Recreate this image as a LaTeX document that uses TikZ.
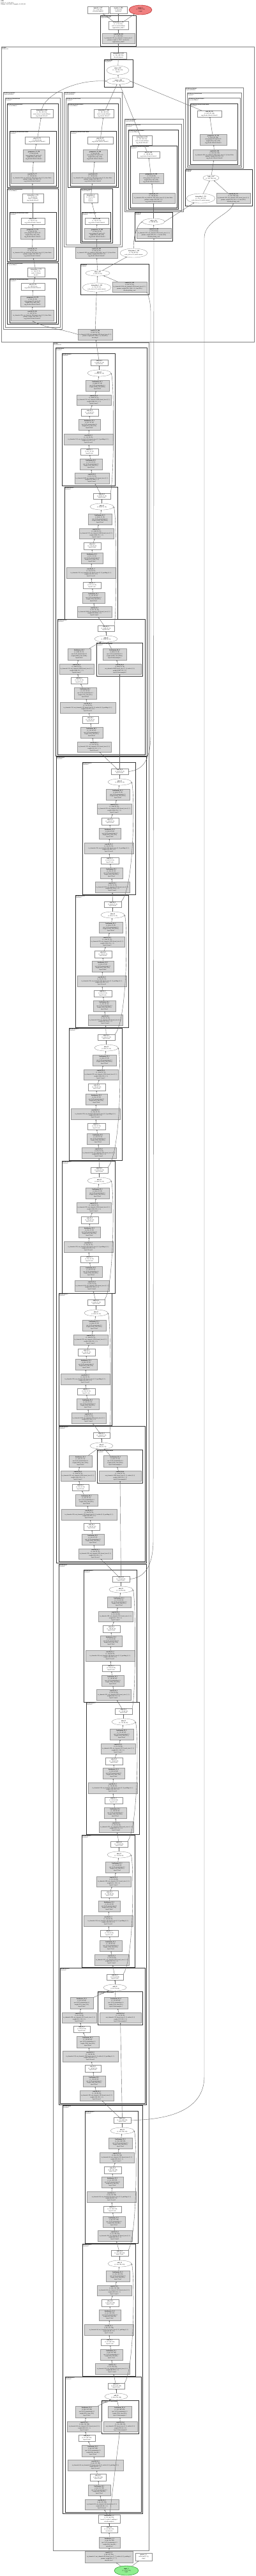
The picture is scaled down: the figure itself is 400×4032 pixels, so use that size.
\documentclass[tikz,border=0pt]{standalone}
\usepackage{fontspec}
\setmainfont{Liberation Serif}
\usetikzlibrary{shapes.geometric,arrows.meta}
\definecolor{lcoral}{HTML}{F08080}
\definecolor{lgreen}{HTML}{90EE90}
\newcommand\defL[5]{\expandafter\def\csname sh#1\endcsname{#2}\expandafter\def\csname ms#1\endcsname{#3}\expandafter\def\csname oc#1\endcsname{#4}\expandafter\def\csname mc#1\endcsname{#5}}
\defL{1}{(1, 256, 128, 128)}{(1, 64, 128, 128)}{256}{64}
\defL{2}{(1, 512, 64, 64)}{(1, 128, 64, 64)}{512}{128}
\defL{3}{(1, 1024, 32, 32)}{(1, 256, 32, 32)}{1024}{256}
\defL{4}{(1, 2048, 16, 16)}{(1, 512, 16, 16)}{2048}{512}
\tikzset{
 base/.style={inner sep=0pt, outer sep=0pt, align=center, font=\fontsize{2.2}{2.9}\selectfont},
 wn/.style={base, rectangle, draw=black!45, line width=0.35pt, fill=white},
 gn/.style={base, rectangle, draw=black!40, line width=0.35pt, fill=black!17},
 en/.style={base, ellipse, draw=black!45, line width=0.35pt, fill=white},
 rn/.style={base, ellipse, draw=red!65!black, line width=0.35pt, fill=lcoral},
 grn/.style={base, ellipse, draw=green!45!black, line width=0.35pt, fill=lgreen},
 e/.style={draw=black!60, line width=0.4pt, -{Stealth[length=2pt,width=1.6pt]}},
 cb/.style={draw=black!80, line width=0.65pt},
 cg/.style={draw=black!50, line width=0.85pt},
 cl/.style={anchor=north west, inner sep=0.4pt, align=left, font=\fontsize{1.9}{2.3}\selectfont},
}
\newcommand\nd[7]{\node[#2,minimum width={((#5)-(#3))*1pt},minimum height={((#6)-(#4))*1pt}] (#1) at ({((#3)+(#5))/2},{((#4)+(#6))/2}) {#7};}
\newcommand\clu[7]{\draw[#2] ({#3},{#4}) rectangle ({#5},{#6}); \node[cl] (#1) at ({(#3)+0.8},{(#4)+0.6}) {#7};}
% normal bottleneck block: prefix, bx, by, layer, idx, input
\newcommand\nb[6]{%
\clu{#1L}{cb}{#2}{#3}{#2+83}{#3+207}{\textbf{encoder.layer#4.#5}\\Bottleneck}
\nd{#1r1}{wn}{#2+45}{#3+10}{#2+72}{#3+19}{\textbf{relu\_#4#5\_3}\\\csname sh#4\endcsname\\layer#4.#5.relu}
\nd{#1ad}{en}{#2+40}{#3+26}{#2+77}{#3+36}{\textbf{add\_#4#5}\\\csname sh#4\endcsname}
\nd{#1b1}{gn}{#2+37}{#3+42}{#2+74}{#3+59}{\textbf{batchnorm\_#4#5\_3}\\\csname sh#4\endcsname\\eps=1e-05, momentum=0.1\\weight (\csname oc#4\endcsname,), bias (\csname oc#4\endcsname,)\\layer#4.#5.bn3}
\nd{#1c1}{gn}{#2+23}{#3+65}{#2+77}{#3+81}{\textbf{conv2d\_#4#5\_3}\\\csname sh#4\endcsname\\in\_channels=\csname mc#4\endcsname, out\_channels=\csname oc#4\endcsname, kernel\_size=(1, 1)\\weight (\csname oc#4\endcsname, \csname mc#4\endcsname, 1, 1)\\layer#4.#5.conv3}
\nd{#1r2}{wn}{#2+30}{#3+87}{#2+57}{#3+98}{\textbf{relu\_#4#5\_2}\\\csname ms#4\endcsname\\layer#4.#5.relu}
\nd{#1b2}{gn}{#2+26}{#3+103}{#2+60}{#3+120}{\textbf{batchnorm\_#4#5\_2}\\\csname ms#4\endcsname\\eps=1e-05, momentum=0.1\\weight (\csname mc#4\endcsname,), bias (\csname mc#4\endcsname,)\\layer#4.#5.bn2}
\nd{#1c2}{gn}{#2+3}{#3+126}{#2+80}{#3+143}{\textbf{conv2d\_#4#5\_2}\\\csname ms#4\endcsname\\in\_channels=\csname mc#4\endcsname, out\_channels=\csname mc#4\endcsname, kernel\_size=(3, 3), padding=(1, 1)\\weight (\csname mc#4\endcsname, \csname mc#4\endcsname, 3, 3)\\layer#4.#5.conv2}
\nd{#1r3}{wn}{#2+29}{#3+149}{#2+57}{#3+159}{\textbf{relu\_#4#5\_1}\\\csname ms#4\endcsname\\layer#4.#5.relu}
\nd{#1b3}{gn}{#2+28}{#3+165}{#2+63}{#3+182}{\textbf{batchnorm\_#4#5\_1}\\\csname ms#4\endcsname\\eps=1e-05, momentum=0.1\\weight (\csname mc#4\endcsname,), bias (\csname mc#4\endcsname,)\\layer#4.#5.bn1}
\nd{#1c3}{gn}{#2+20}{#3+187}{#2+74}{#3+204}{\textbf{conv2d\_#4#5\_1}\\\csname ms#4\endcsname\\in\_channels=\csname oc#4\endcsname, out\_channels=\csname mc#4\endcsname, kernel\_size=(1, 1)\\weight (\csname mc#4\endcsname, \csname oc#4\endcsname, 1, 1)\\layer#4.#5.conv1}
\draw[e] (#1c3)--(#1b3); \draw[e] (#1b3)--(#1r3); \draw[e] (#1r3)--(#1c2); \draw[e] (#1c2)--(#1b2);
\draw[e] (#1b2)--(#1r2); \draw[e] (#1r2)--(#1c1); \draw[e] (#1c1)--(#1b1); \draw[e] (#1b1)--(#1ad); \draw[e] (#1ad)--(#1r1);
\draw[e] (#6)--(#1c3);
\draw[e] (#6.north east) .. controls ({#2+82},{#3+195}) and ({#2+82},{#3+45}) .. (#1ad.east);
}
% downsample block: prefix, bx, by, layer, w, relu offset, ds offset, input
\newcommand\db[8]{%
\clu{#1L}{cb}{#2}{#3}{#2+#5}{#3+212}{\textbf{encoder.layer#4.0}\\Bottleneck}
\nd{#1r1}{wn}{#2+#6}{#3+10}{#2+#6+26}{#3+19}{\textbf{relu\_#40\_3}\\\csname sh#4\endcsname\\layer#4.0.relu}
\nd{#1ad}{en}{#2+#6-5}{#3+26}{#2+#6+31}{#3+36}{\textbf{add\_#40}\\\csname sh#4\endcsname}
\clu{#1D}{cb}{#2+#7}{#3+37}{#2+#5-4}{#3+89}{\textbf{encoder.layer#4.0.downsample}\\Sequential}
\nd{#1db}{gn}{#2+#7+10}{#3+46}{#2+#7+47}{#3+64}{\textbf{batchnorm\_#40\_d}\\\csname sh#4\endcsname\\eps=1e-05, momentum=0.1\\weight (\csname oc#4\endcsname,), bias (\csname oc#4\endcsname,)\\layer#4.0.downsample.1}
\nd{#1dc}{gn}{#2+#7+3}{#3+70}{#2+#5-6}{#3+86}{\textbf{conv2d\_#40\_d}\\\csname sh#4\endcsname\\out\_channels=\csname oc#4\endcsname, kernel\_size=(1, 1), stride=(2, 2)\\weight (\csname oc#4\endcsname, \csname mc#4\endcsname, 1, 1)\\layer#4.0.downsample.0}
\nd{#1b1}{gn}{#2+16}{#3+46}{#2+52}{#3+64}{\textbf{batchnorm\_#40\_3}\\\csname sh#4\endcsname\\eps=1e-05, momentum=0.1\\weight (\csname oc#4\endcsname,), bias (\csname oc#4\endcsname,)\\layer#4.0.bn3}
\nd{#1c1}{gn}{#2+3}{#3+70}{#2+57}{#3+86}{\textbf{conv2d\_#40\_3}\\\csname sh#4\endcsname\\in\_channels=\csname mc#4\endcsname, out\_channels=\csname oc#4\endcsname, kernel\_size=(1, 1)\\weight (\csname oc#4\endcsname, \csname mc#4\endcsname, 1, 1)\\layer#4.0.conv3}
\nd{#1r2}{wn}{#2+21}{#3+91}{#2+47}{#3+101}{\textbf{relu\_#40\_2}\\\csname ms#4\endcsname\\layer#4.0.relu}
\nd{#1b2}{gn}{#2+26}{#3+107}{#2+61}{#3+125}{\textbf{batchnorm\_#40\_2}\\\csname ms#4\endcsname\\eps=1e-05, momentum=0.1\\weight (\csname mc#4\endcsname,), bias (\csname mc#4\endcsname,)\\layer#4.0.bn2}
\nd{#1c2}{gn}{#2+4}{#3+130}{#2+91}{#3+147}{\textbf{conv2d\_#40\_2}\\\csname ms#4\endcsname\\in\_channels=\csname mc#4\endcsname, out\_channels=\csname mc#4\endcsname, kernel\_size=(3, 3), stride=(2, 2), padding=(1, 1)\\weight (\csname mc#4\endcsname, \csname mc#4\endcsname, 3, 3)\\layer#4.0.conv2}
\nd{#1r3}{wn}{#2+39}{#3+152}{#2+64}{#3+163}{\textbf{relu\_#40\_1}\\\csname ms#4\endcsname\\layer#4.0.relu}
\nd{#1b3}{gn}{#2+36}{#3+169}{#2+71}{#3+186}{\textbf{batchnorm\_#40\_1}\\\csname ms#4\endcsname\\eps=1e-05, momentum=0.1\\weight (\csname mc#4\endcsname,), bias (\csname mc#4\endcsname,)\\layer#4.0.bn1}
\nd{#1c3}{gn}{#2+31}{#3+192}{#2+84}{#3+208}{\textbf{conv2d\_#40\_1}\\\csname ms#4\endcsname\\in\_channels=\csname mc#4\endcsname, out\_channels=\csname mc#4\endcsname, kernel\_size=(1, 1)\\weight (\csname mc#4\endcsname, \csname mc#4\endcsname, 1, 1)\\layer#4.0.conv1}
\draw[e] (#1c3)--(#1b3); \draw[e] (#1b3)--(#1r3); \draw[e] (#1r3)--(#1c2); \draw[e] (#1c2)--(#1b2);
\draw[e] (#1b2)--(#1r2); \draw[e] (#1r2)--(#1c1); \draw[e] (#1c1)--(#1b1); \draw[e] (#1b1)--(#1ad); \draw[e] (#1ad)--(#1r1);
\draw[e] (#1dc)--(#1db); \draw[e] (#1db)--(#1ad);
\draw[e] (#8)--(#1c3); \draw[e] (#8)--(#1dc);
}
\begin{document}
\begin{tikzpicture}[x=1pt,y=-1pt]
\fill[white] (0,0) rectangle (400,4032);
\useasboundingbox (0,0) rectangle (400,4032);
\node[anchor=north west, inner sep=0pt, align=left, font=\fontsize{2.2}{2.6}\selectfont] (hdr) at (1.5,1) {\textbf{FPN}\\Input: (1, 3, 512, 512)\\Params: 23,155,393, Trainable: 23,155,393};
% ===== stem =====
\nd{inp}{grn}{179}{4016}{217}{4031}{\textbf{input\_1}\\(1, 3, 512, 512)\\input}
\nd{sc}{gn}{133}{3993}{208}{4011}{\textbf{conv2d\_1\_2}\\(1, 64, 256, 256)\\in\_channels=3, out\_channels=64, kernel\_size=(7, 7), stride=(2, 2), padding=3\\params: weight (64, 3, 7, 7)\\encoder.conv1}
\nd{sx}{wn}{212}{3996}{238}{4008}{\textbf{getattr\_1\_1}\\torch.Size([1, 3])\\shape}
\nd{sb}{gn}{155}{3971}{188}{3988}{\textbf{batchnorm\_1\_3}\\(1, 64, 256, 256)\\eps=1e-05, momentum=0.1\\weight (64,), bias (64,)\\encoder.bn1}
\nd{sr}{wn}{158}{3954}{184}{3964}{\textbf{relu\_1\_4}\\(1, 64, 256, 256)\\encoder.relu}
\nd{mp}{wn}{154}{3936}{188}{3949}{\textbf{maxpool2d\_1\_5}\\(1, 64, 128, 128)\\kernel=3, stride=2, padding=1\\encoder.maxpool}
\draw[e] (inp)--(sc); \draw[e] (inp)--(sx); \draw[e] (sc)--(sb); \draw[e] (sb)--(sr); \draw[e] (sr)--(mp);
% ===== layer1 =====
\db{q10}{102}{3720}{1}{119}{67}{57}{mp}
\nb{q11}{129}{3512}{1}{1}{q10r1}
\nb{q12}{133}{3304}{1}{2}{q11r1}
\clu{Ly1}{cb}{98}{3295}{223}{3934}{\textbf{encoder.layer1}\\Sequential}
% ===== layer2 =====
\db{q20}{94}{3080}{2}{133}{73}{59}{q12r1}
\nb{q21}{128}{2872}{2}{1}{q20r1}
\nb{q22}{135}{2664}{2}{2}{q21r1}
\nb{q23}{131}{2457}{2}{3}{q22r1}
\clu{Ly2}{cb}{92}{2448}{229}{3294}{\textbf{encoder.layer2}\\Sequential}
% ===== layer3 =====
\db{q30}{92}{2232}{3}{135}{54}{60}{q23r1}
\nb{q31}{92}{2024}{3}{1}{q30r1}
\nb{q32}{97}{1817}{3}{2}{q31r1}
\nb{q33}{108}{1609}{3}{3}{q32r1}
\nb{q34}{118}{1401}{3}{4}{q33r1}
\nb{q35}{129}{1193}{3}{5}{q34r1}
\clu{Ly3}{cb}{88}{1184}{229}{2446}{\textbf{encoder.layer3}\\Sequential}
% ===== layer4 =====
\db{q40}{90}{969}{4}{137}{63}{61}{q35r1}
\nb{q41}{101}{762}{4}{1}{q40r1}
\nb{q42}{97}{553}{4}{2}{q41r1}
\clu{Ly4}{cb}{87}{544}{230}{1183}{\textbf{encoder.layer4}\\Sequential}
\clu{Dc}{cg}{83}{536}{233}{3992}{\textbf{encoder}\\ResNetEncoder}
% ===== head and outputs =====
\nd{T1}{wn}{137}{10}{170}{21}{\textbf{sigmoid\_1\_187}\\(1, 1, 512, 512)\\activation.sigmoid}
\nd{T2}{wn}{172}{10}{199}{21}{\textbf{argmax\_1\_188}\\(1, 512, 512)\\prediction}
\nd{T3}{rn}{202}{8}{238}{23}{\textbf{output\_1}\\(1, 1, 512, 512)\\output}
\clu{Ac}{cb}{157}{24}{213}{72}{\textbf{segmentation\_head}\\SegmentationHead}
\nd{A1}{wn}{170}{33}{201}{46}{\textbf{interpolate\_5\_185}\\(1, 1, 512, 512)\\scale=4, mode=bilinear\\segmentation\_head.1}
\nd{A2}{gn}{160}{52}{211}{68}{\textbf{conv2d\_58\_184}\\(1, 1, 128, 128)\\in\_channels=128, out\_channels=1, kernel\_size=3\\params: weight (1, 128, 3, 3), bias (1,)\\segmentation\_head.0}
\draw[e] (A1)--(T1); \draw[e] (A1)--(T2); \draw[e] (A1)--(T3); \draw[e] (A2)--(A1);
% ===== decoder =====
\clu{Bc}{cg}{2}{73}{398}{535}{\textbf{decoder}\\FPNDecoder}
\nd{B1}{wn}{173}{82}{198}{92}{\textbf{dropout2d\_1\_183}\\(1, 128, 128, 128)\\decoder.dropout}
\clu{Cc}{cb}{163}{93}{208}{136}{\textbf{decoder.merge}\\MergeBlock}
\nd{C1}{en}{167}{103}{202}{117}{\textbf{sum\_1\_182}\\(1, 128, 128, 128)\\dim=0}
\nd{C2}{en}{167}{122}{204}{132}{\textbf{stack\_1\_181}\\(4, 1, 128, 128, 128)}
\draw[e] (B1)--(A2); \draw[e] (C1)--(B1); \draw[e] (C2)--(C1);
% --- column L (seg_blocks.0) ---
\clu{L1c}{cg}{5}{144}{97}{515}{\textbf{decoder.seg\_blocks.0}\\SegmentationBlock}
\clu{L1a}{cg}{8}{153}{94}{512}{\textbf{decoder.seg\_blocks.0.block}\\Sequential}
\clu{L1b}{cb}{11}{162}{91}{293}{\textbf{decoder.seg\_blocks.0.block.2}\\Conv3x3GNReLU}
\clu{L1d}{cb}{15}{205}{88}{291}{\textbf{decoder.seg\_blocks.0.block.2.block}\\Sequential}
\nd{Lai}{wn}{48}{171}{83}{184}{\textbf{interpolate\_4\_180}\\(1, 128, 128, 128)\\scale\_factor=2, mode=bilinear\\seg\_blocks.0.block.2}
\nd{Lar}{wn}{39}{214}{77}{225}{\textbf{relu\_52\_179}\\(1, 128, 64, 64)\\seg\_blocks.0.block.2.block.2}
\nd{Lag}{gn}{36}{234}{70}{253}{\textbf{groupnorm\_12\_178}\\(1, 128, 64, 64)\\num\_groups=32, eps=1e-05\\weight (128,), bias (128,)\\seg\_blocks.0.block.2.block.1}
\nd{Lah}{gn}{17}{270}{84}{287}{\textbf{conv2d\_57\_177}\\(1, 128, 64, 64)\\in\_channels=128, out\_channels=128, kernel\_size=(3, 3), bias=False\\params: weight (128, 128, 3, 3)\\seg\_blocks.0.block.2.block.0}
\clu{L2b}{cb}{11}{295}{91}{409}{\textbf{decoder.seg\_blocks.0.block.1}\\Conv3x3GNReLU}
\clu{L2d}{cb}{15}{332}{88}{407}{\textbf{decoder.seg\_blocks.0.block.1.block}\\Sequential}
\nd{Lbi}{wn}{35}{303}{68}{317}{\textbf{interpolate\_3\_176}\\(1, 128, 64, 64)\\scale=2, bilinear\\seg\_blocks.0.block.1}
\nd{Lbr}{wn}{33}{341}{70}{351}{\textbf{relu\_51\_175}\\(1, 128, 32, 32)\\seg\_blocks.0.block.1.block.2}
\nd{Lbg}{gn}{32}{357}{70}{374}{\textbf{groupnorm\_11\_174}\\(1, 128, 32, 32)\\num\_groups=32, eps=1e-05\\weight (128,), bias (128,)\\seg\_blocks.0.block.1.block.1}
\nd{Lbh}{gn}{17}{387}{84}{404}{\textbf{conv2d\_56\_173}\\(1, 128, 32, 32)\\in\_channels=128, out\_channels=128, kernel\_size=(3, 3), bias=False\\params: weight (128, 128, 3, 3)\\seg\_blocks.0.block.1.block.0}
\clu{L3b}{cb}{11}{411}{91}{507}{\textbf{decoder.seg\_blocks.0.block.0}\\Conv3x3GNReLU}
\clu{L3d}{cb}{15}{436}{88}{505}{\textbf{decoder.seg\_blocks.0.block.0.block}\\Sequential}
\nd{Lci}{wn}{43}{419}{70}{433}{\textbf{interpolate\_2\_172}\\(1, 128, 32, 32)\\scale=2, bilinear\\block.0}
\nd{Lcr}{wn}{33}{443}{70}{454}{\textbf{relu\_50\_171}\\(1, 128, 16, 16)\\seg\_blocks.0.block.0.block.2}
\nd{Lcg}{gn}{32}{463}{70}{480}{\textbf{groupnorm\_10\_170}\\(1, 128, 16, 16)\\num\_groups=32, eps=1e-05\\weight (128,), bias (128,)\\seg\_blocks.0.block.0.block.1}
\nd{Lch}{gn}{17}{485}{84}{502}{\textbf{conv2d\_55\_169}\\(1, 128, 16, 16)\\in\_channels=256, out\_channels=128, kernel\_size=(3, 3), bias=False\\params: weight (128, 256, 3, 3)\\seg\_blocks.0.block.0.block.0}
\draw[e] (Lar)--(Lai); \draw[e] (Lag)--(Lar); \draw[e] (Lah)--(Lag); \draw[e] (Lbi)--(Lah);
\draw[e] (Lbr)--(Lbi); \draw[e] (Lbg)--(Lbr); \draw[e] (Lbh)--(Lbg); \draw[e] (Lci)--(Lbh);
\draw[e] (Lcr)--(Lci); \draw[e] (Lcg)--(Lcr); \draw[e] (Lch)--(Lcg);
% --- column M (seg_blocks.1) ---
\clu{M1c}{cg}{100}{144}{191}{386}{\textbf{decoder.seg\_blocks.1}\\SegmentationBlock}
\clu{M1a}{cg}{103}{153}{188}{383}{\textbf{decoder.seg\_blocks.1.block}\\Sequential}
\clu{M1b}{cb}{106}{162}{185}{293}{\textbf{decoder.seg\_blocks.1.block.1}\\Conv3x3GNReLU}
\clu{M1d}{cb}{110}{205}{182}{291}{\textbf{decoder.seg\_blocks.1.block.1.block}\\Sequential}
\nd{Mai}{wn}{147}{171}{178}{184}{\textbf{interpolate\_7\_168}\\(1, 128, 128, 128)\\scale=2, mode=bilinear\\seg\_blocks.1.block.1}
\nd{Mar}{wn}{137}{214}{177}{225}{\textbf{relu\_54\_167}\\(1, 128, 64, 64)\\seg\_blocks.1.block.1.block.2}
\nd{Mag}{gn}{130}{234}{168}{253}{\textbf{groupnorm\_14\_166}\\(1, 128, 64, 64)\\num\_groups=32, eps=1e-05\\weight (128,), bias (128,)\\seg\_blocks.1.block.1.block.1}
\nd{Mah}{gn}{112}{270}{179}{287}{\textbf{conv2d\_60\_165}\\(1, 128, 64, 64)\\in\_channels=128, out\_channels=128, kernel\_size=(3, 3), bias=False\\params: weight (128, 128, 3, 3)\\seg\_blocks.1.block.1.block.0}
\clu{M2b}{cb}{126}{295}{176}{380}{\textbf{seg\_blocks.1.block.0}\\Conv3x3GNReLU}
\clu{M2d}{cb}{128}{332}{173}{378}{\textbf{seg\_blocks.1.block.0.block}\\Sequential}
\nd{Mbi}{wn}{131}{303}{153}{317}{\textbf{interpolate\_6}\\(1, 128, 64, 64)\\scale=2\\block.0}
\nd{Mbr}{wn}{133}{341}{170}{351}{\textbf{relu\_53\_163}\\(1, 128, 32, 32)\\seg\_blocks.1.block.0.block.2}
\nd{Mbg}{gn}{132}{357}{172}{374}{\textbf{groupnorm\_13\_162}\\(1, 128, 32, 32)\\num\_groups=32, eps=1e-05\\weight (128,), bias (128,)\\seg\_blocks.1.block.0.block.1}
\nd{Mg}{gn}{118}{387}{184}{404}{\textbf{conv2d\_59\_161}\\(1, 128, 32, 32)\\in\_channels=256, out\_channels=128, kernel\_size=(3, 3), bias=False\\params: weight (128, 256, 3, 3)\\seg\_blocks.1.block.0.block.0}
\draw[e] (Mar)--(Mai); \draw[e] (Mag)--(Mar); \draw[e] (Mah)--(Mag); \draw[e] (Mbi)--(Mah);
\draw[e] (Mbr)--(Mbi); \draw[e] (Mbg)--(Mbr); \draw[e] (Mg)--(Mbg);
% --- column R1 (seg_blocks.2) ---
\clu{R1c}{cg}{195}{186}{287}{331}{\textbf{decoder.seg\_blocks.2}\\SegmentationBlock}
\clu{R1a}{cg}{197}{194}{284}{329}{\textbf{decoder.seg\_blocks.2.block}\\Sequential}
\clu{R1b}{cb}{201}{203}{279}{327}{\textbf{decoder.seg\_blocks.2.block.0}\\Conv3x3GNReLU}
\clu{R1d}{cb}{204}{228}{277}{325}{\textbf{decoder.seg\_blocks.2.block.0.block}\\Sequential}
\nd{R1i}{wn}{207}{212}{238}{227}{\textbf{interpolate\_8\_160}\\(1, 128, 128, 128)\\scale=2, mode=bilinear\\seg\_blocks.2.block.0}
\nd{R1r}{wn}{215}{237}{250}{247}{\textbf{relu\_55\_159}\\(1, 128, 64, 64)\\seg\_blocks.2.block.0.block.2}
\nd{R1g}{gn}{218}{271}{256}{287}{\textbf{groupnorm\_15\_158}\\(1, 128, 64, 64)\\num\_groups=32, eps=1e-05\\weight (128,), bias (128,)\\seg\_blocks.2.block.0.block.1}
\nd{R1h}{gn}{207}{302}{274}{318}{\textbf{conv2d\_61\_157}\\(1, 128, 64, 64)\\in\_channels=256, out\_channels=128, kernel\_size=(3, 3), bias=False\\params: weight (128, 256, 3, 3)\\seg\_blocks.2.block.0.block.0}
\draw[e] (R1r)--(R1i); \draw[e] (R1g)--(R1r); \draw[e] (R1h)--(R1g);
% --- column R2 (seg_blocks.3) ---
\clu{R2c}{cg}{290}{137}{381}{263}{\textbf{decoder.seg\_blocks.3}\\SegmentationBlock}
\clu{R2a}{cg}{293}{145}{378}{261}{\textbf{decoder.seg\_blocks.3.block}\\Sequential}
\clu{R2b}{cg}{295}{153}{376}{259}{\textbf{decoder.seg\_blocks.3.block.0}\\Conv3x3GNReLU}
\clu{R2d}{cb}{298}{162}{372}{257}{\textbf{decoder.seg\_blocks.3.block.0.block}\\Sequential}
\nd{R2r}{wn}{309}{173}{347}{183}{\textbf{relu\_56\_156}\\(1, 128, 128, 128)\\seg\_blocks.3.block.0.block.2}
\nd{R2g}{gn}{313}{210}{355}{227}{\textbf{groupnorm\_16\_155}\\(1, 128, 128, 128)\\num\_groups=32, eps=1e-05\\weight (128,), bias (128,)\\seg\_blocks.3.block.0.block.1}
\nd{R2h}{gn}{302}{234}{370}{251}{\textbf{conv2d\_62\_154}\\(1, 128, 128, 128)\\in\_channels=256, out\_channels=128, kernel\_size=(3, 3), bias=False\\params: weight (128, 256, 3, 3)\\seg\_blocks.3.block.0.block.0}
\draw[e] (R2g)--(R2r); \draw[e] (R2h)--(R2g);
% --- FPN blocks ---
\clu{Gc}{cb}{290}{265}{395}{322}{\textbf{decoder.p2}\\FPNBlock}
\nd{Ga}{en}{318}{274}{343}{283}{\textbf{add\_3\_153}\\(1, 256, 128, 128)}
\nd{Gi}{en}{292}{303}{337}{318}{\textbf{interpolate\_1\_152}\\(1, 256, 128, 128)\\scale\_factor=2.0, mode=nearest}
\nd{Gg}{gn}{339}{302}{392}{318}{\textbf{conv2d\_54\_151}\\(1, 256, 128, 128)\\in\_channels=256, out\_channels=256, kernel\_size=(1, 1)\\params: weight (256, 256, 1, 1), bias (256,)\\decoder.p2.skip\_conv}
\clu{Fc}{cb}{211}{332}{270}{377}{\textbf{decoder.p3}\\FPNBlock}
\nd{Fe}{en}{223}{342}{258}{352}{\textbf{add\_2\_150}\\(1, 256, 64, 64)}
\nd{Fg}{gn}{214}{357}{268}{373}{\textbf{conv2d\_53\_149}\\(1, 256, 64, 64)\\in\_channels=512, out\_channels=256, kernel\_size=(1, 1)\\params: weight (256, 512, 1, 1), bias (256,)\\decoder.p3.skip\_conv}
\nd{X}{en}{188}{389}{231}{403}{\textbf{interpolate\_1\_148}\\(1, 256, 64, 64)\\scale\_factor=2.0, mode=nearest}
\clu{Ec}{cb}{126}{413}{233}{461}{\textbf{decoder.p4}\\FPNBlock}
\nd{Ea}{en}{134}{423}{172}{432}{\textbf{add\_1\_147}\\(1, 256, 32, 32)}
\nd{Ei}{en}{129}{443}{174}{457}{\textbf{interpolate\_1\_146}\\(1, 256, 32, 32)\\scale\_factor=2.0, mode=nearest}
\nd{Eg}{gn}{176}{441}{230}{457}{\textbf{conv2d\_52\_145}\\(1, 256, 32, 32)\\in\_channels=1024, out\_channels=256, kernel\_size=(1, 1)\\params: weight (256, 1024, 1, 1), bias (256,)\\decoder.p4.skip\_conv}
\nd{Pc}{gn}{122}{515}{176}{532}{\textbf{conv2d\_51\_144}\\(1, 256, 16, 16)\\in\_channels=2048, out\_channels=256, kernel\_size=(1, 1)\\params: weight (256, 2048, 1, 1), bias (256,)\\decoder.p5}
% --- decoder edges ---
\draw[e] (Lai.north) .. controls (70,150) and (115,124) .. (C2.west);
\draw[e] (Mai)--(C2); \draw[e] (R1i)--(C2); \draw[e] (R2r)--(C2.east);
\draw[e] (Pc.west) .. controls (100,516) and (66,512) .. (Lch.south);
\draw[e] (Pc)--(Ei); \draw[e] (Ei)--(Ea); \draw[e] (Eg)--(Ea); \draw[e] (Ea)--(Mg);
\draw[e] (Ea)--(X); \draw[e] (X.north) .. controls (208,375) and (214,352) .. (Fe.west);
\draw[e] (Fg)--(Fe); \draw[e] (Fe)--(R1h); \draw[e] (Fe.east)--(Gi);
\draw[e] (Gi)--(Ga); \draw[e] (Gg)--(Ga); \draw[e] (Ga)--(R2h);
% --- lateral connections from the encoder ---
\draw[e] (q42r1)--(Pc);
\draw[e] (q35r1.east) .. controls (222,1206) and (236,1192) .. (236,1150) -- (236,490) .. controls (236,470) and (232,463) .. (Eg.south east);
\draw[e] (q23r1.east) .. controls (226,2470) and (240,2452) .. (240,2410) -- (241,380) -- (Fg.south);
\draw[e] (q12r1.east) .. controls (260,3318) and (320,3305) .. (320,3250) -- (320,372) .. controls (320,345) and (362,335) .. (Gg.south);
\end{tikzpicture}
\end{document}
